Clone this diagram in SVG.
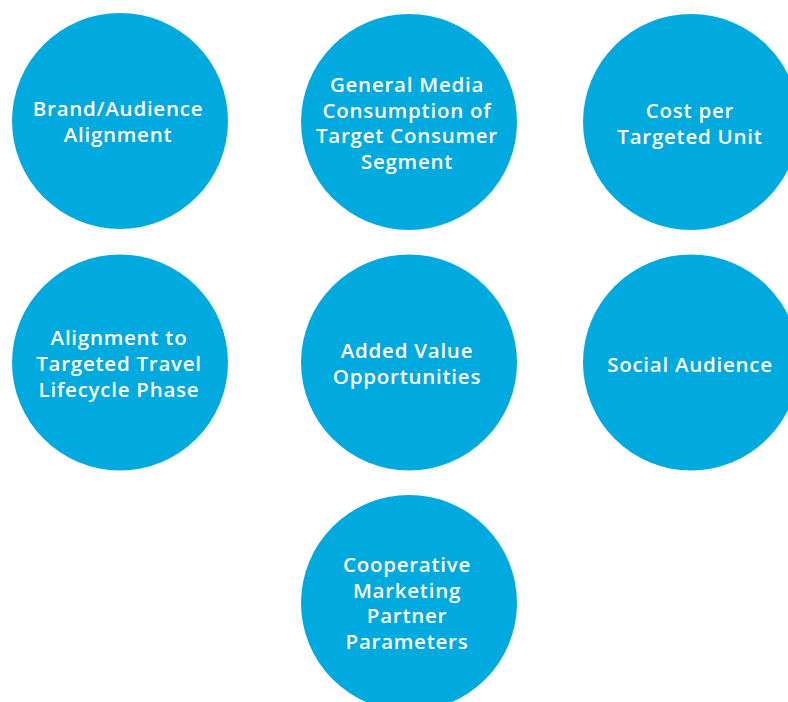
<svg xmlns="http://www.w3.org/2000/svg" width="788" height="702" viewBox="0 0 788 702">
<style>
.c{fill:#00a9de}
.t{fill:#fff;font-family:"Open Sans","Liberation Sans",sans-serif;font-size:20.5px;font-weight:600;text-anchor:middle;letter-spacing:0.75px}
</style>
<rect width="788" height="702" fill="#fff"/>
<g id="n1"><circle class="c" cx="120" cy="121" r="108"/><text class="t"><tspan x="118" y="116">Brand/Audience</tspan><tspan x="118" y="142">Alignment</tspan></text></g>
<g id="n2"><circle class="c" cx="409" cy="122" r="108"/><text class="t"><tspan x="407" y="92">General Media</tspan><tspan x="407" y="117.5">Consumption of</tspan><tspan x="407" y="143">Target Consumer</tspan><tspan x="407" y="168.5">Segment</tspan></text></g>
<g id="n3"><circle class="c" cx="691" cy="122" r="108"/><text class="t"><tspan x="690" y="118">Cost per</tspan><tspan x="690" y="144">Targeted Unit</tspan></text></g>
<g id="n4"><circle class="c" cx="120" cy="362.5" r="108"/><text class="t"><tspan x="119" y="345">Alignment to</tspan><tspan x="119" y="371">Targeted Travel</tspan><tspan x="119" y="397">Lifecycle Phase</tspan></text></g>
<g id="n5"><circle class="c" cx="409" cy="362.5" r="108"/><text class="t"><tspan x="407" y="358">Added Value</tspan><tspan x="407" y="384">Opportunities</tspan></text></g>
<g id="n6"><circle class="c" cx="691" cy="362.5" r="108"/><text class="t"><tspan x="690" y="372">Social Audience</tspan></text></g>
<g id="n7"><circle class="c" cx="409" cy="603" r="108"/><text class="t"><tspan x="407" y="572">Cooperative</tspan><tspan x="407" y="597.5">Marketing</tspan><tspan x="407" y="623">Partner</tspan><tspan x="407" y="648.5">Parameters</tspan></text></g>
<g id="connectors"></g>
</svg>
